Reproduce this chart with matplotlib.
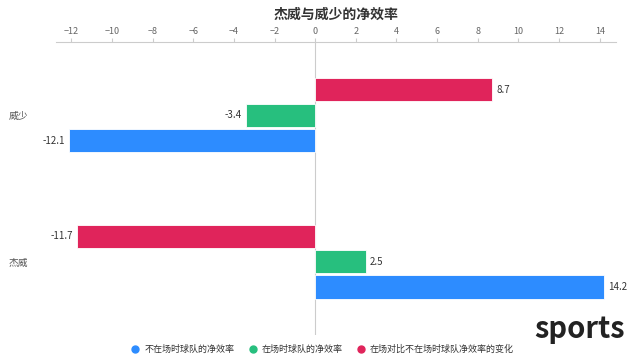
import numpy as np
import matplotlib
matplotlib.use('Agg')
import matplotlib.pyplot as plt
from matplotlib.lines import Line2D

plt.rcParams['font.family'] = ['Noto Sans CJK SC', 'DejaVu Sans']

# 数据
players = ['杰威', '威少']
series_names = ['不在场时球队的净效率', '在场时球队的净效率', '在场对比不在场时球队净效率的变化']
off_court = [14.2, -12.1]
on_court = [2.5, -3.4]
change = [-11.7, 8.7]
colors = ['#2d8cff', '#27bf7e', '#e0245b']

fig = plt.figure(figsize=(6.4, 3.62), dpi=100)
ax = fig.add_axes([0.0875, 0.075, 0.875, 0.809])

y = np.arange(len(players))
h = 0.158
step = 0.173
for k, vals in enumerate([off_court, on_court, change]):
    pos = y + (k - 1) * step
    ax.barh(pos, vals, height=h, color=colors[k], edgecolor='white', linewidth=0.6, zorder=3)
    for p, v in zip(pos, vals):
        if v < 0:
            ax.text(v - 0.2, p, '%.1f' % v, ha='right', va='center', fontsize=7, color='#333333')
        else:
            ax.text(v + 0.2, p, '%.1f' % v, ha='left', va='center', fontsize=7, color='#333333')

ax.set_xlim(-12.75, 14.8)
ax.set_ylim(-0.5, 1.5)
ax.set_xticks(np.arange(-12, 15, 2))
ax.xaxis.tick_top()
ax.tick_params(axis='x', length=3, color='#cccccc', labelsize=6.5, labelcolor='#666666', pad=1)
ax.set_yticks(y)
ax.set_yticklabels(players)
ax.tick_params(axis='y', length=0, labelsize=7, labelcolor='#555555', pad=20)
for s in ['right', 'bottom', 'left']:
    ax.spines[s].set_visible(False)
ax.spines['top'].set_color('#cccccc')
ax.axvline(0, color='#cccccc', linewidth=0.8, zorder=2)

ax.set_title('杰威与威少的净效率', fontsize=10, fontweight='bold', color='#333333', pad=17)

handles = [Line2D([0], [0], marker='o', linestyle='', markersize=5, color=c) for c in colors]
fig.legend(handles, series_names, loc='center', bbox_to_anchor=(0.5, 0.035), ncol=3, frameon=False,
           fontsize=6.5, handletextpad=0.0, columnspacing=1.0, labelcolor='#333333')

fig.text(0.977, 0.05, 'sports', ha='right', va='bottom', fontsize=21, fontweight='bold', color='#222222')

fig.savefig('out.png', dpi=100)
